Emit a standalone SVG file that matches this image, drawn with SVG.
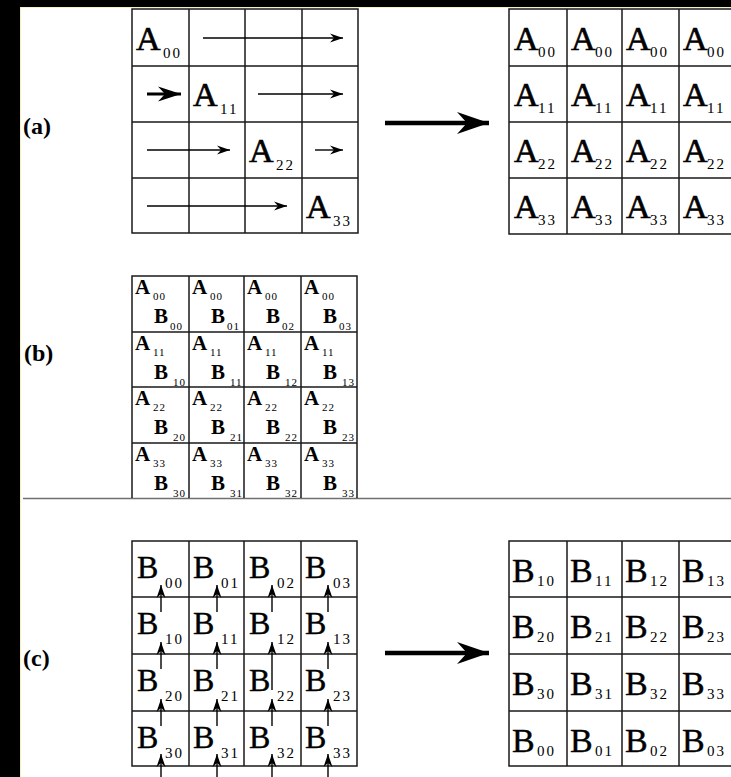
<svg xmlns="http://www.w3.org/2000/svg" width="731" height="777" viewBox="0 0 731 777">
<defs>
<style>
.grid{fill:none;stroke:#1a1a1a;stroke-width:1.5}
.lbl{font-family:"Liberation Serif",serif;font-weight:bold;font-size:24px;fill:#000}
.ta{font-family:"Liberation Serif",serif;font-size:34px;fill:#000;stroke:#000;stroke-width:0.6}
.tc{font-family:"Liberation Serif",serif;font-size:32px;fill:#000;stroke:#000;stroke-width:0.4}
.tcr{font-family:"Liberation Serif",serif;font-size:34px;fill:#000;stroke:#000;stroke-width:0.4}
.sub{font-family:"Liberation Serif",serif;font-size:15px;letter-spacing:2px;fill:#000}
.tb{font-family:"Liberation Serif",serif;font-weight:bold;font-size:21px;fill:#000}
.sb{font-family:"Liberation Serif",serif;font-size:11px;letter-spacing:1px;fill:#000}
.thin{stroke:#000;stroke-width:1.4;fill:none;marker-end:url(#ah)}
.big{stroke:#000;stroke-width:4.5;fill:none;marker-end:url(#bh)}
.mid{stroke:#000;stroke-width:3;fill:none;marker-end:url(#mh)}
</style>
<marker id="ah" markerUnits="userSpaceOnUse" viewBox="-14 -6 15 12" refX="0" refY="0" markerWidth="15" markerHeight="12" orient="auto"><path d="M0,0 L-13,-4.5 L-9,0 L-13,4.5 Z" fill="#000"/></marker>
<marker id="mh" markerUnits="userSpaceOnUse" viewBox="-24 -9 25 18" refX="0" refY="0" markerWidth="25" markerHeight="18" orient="auto"><path d="M0,0 L-23,-7.5 L-16,0 L-23,7.5 Z" fill="#000"/></marker>
<marker id="bh" markerUnits="userSpaceOnUse" viewBox="-34 -12 35 24" refX="0" refY="0" markerWidth="35" markerHeight="24" orient="auto"><path d="M0,0 L-32,-11 L-22,0 L-32,11 Z" fill="#000"/></marker>
</defs>
<rect x="0" y="0" width="731" height="777" fill="#fff"/>
<rect x="0" y="0" width="731" height="7" fill="#000"/>
<rect x="0" y="0" width="20" height="777" fill="#000"/>
<line x1="20.5" y1="7" x2="20.5" y2="777" stroke="#f4f0c0" stroke-width="1"/>
<line x1="20" y1="7.5" x2="731" y2="7.5" stroke="#f4f0c0" stroke-width="1"/>
<line x1="23" y1="498.5" x2="731" y2="498.5" stroke="#707070" stroke-width="1.5"/>

<text class="lbl" x="23" y="134">(a)</text>
<text class="lbl" x="24" y="361">(b)</text>
<text class="lbl" x="23" y="666">(c)</text>

<g id="gridA1">
<path class="grid" d="M132,9H358V233H132Z M189,9V233 M245,9V233 M302,9V233 M132,66H358 M132,122H358 M132,178H358"/>
<text class="ta" x="136" y="50">A</text><text class="sub" x="163" y="58">00</text>
<text class="ta" x="193" y="106">A</text><text class="sub" x="220" y="114">11</text>
<text class="ta" x="249" y="162">A</text><text class="sub" x="276" y="170">22</text>
<text class="ta" x="306" y="218">A</text><text class="sub" x="333" y="226">33</text>
</g>

<g id="gridA2">
<path class="grid" d="M509,9H736V234H509Z M567,9V234 M622,9V234 M679,9V234 M509,66H736 M509,122H736 M509,178H736"/>
<text class="ta" x="514" y="50">A</text><text class="sub" x="538" y="57">00</text>
<text class="ta" x="571" y="50">A</text><text class="sub" x="595" y="57">00</text>
<text class="ta" x="626" y="50">A</text><text class="sub" x="650" y="57">00</text>
<text class="ta" x="683" y="50">A</text><text class="sub" x="707" y="57">00</text>
<text class="ta" x="514" y="106">A</text><text class="sub" x="538" y="113">11</text>
<text class="ta" x="571" y="106">A</text><text class="sub" x="595" y="113">11</text>
<text class="ta" x="626" y="106">A</text><text class="sub" x="650" y="113">11</text>
<text class="ta" x="683" y="106">A</text><text class="sub" x="707" y="113">11</text>
<text class="ta" x="514" y="162">A</text><text class="sub" x="538" y="169">22</text>
<text class="ta" x="571" y="162">A</text><text class="sub" x="595" y="169">22</text>
<text class="ta" x="626" y="162">A</text><text class="sub" x="650" y="169">22</text>
<text class="ta" x="683" y="162">A</text><text class="sub" x="707" y="169">22</text>
<text class="ta" x="514" y="218">A</text><text class="sub" x="538" y="225">33</text>
<text class="ta" x="571" y="218">A</text><text class="sub" x="595" y="225">33</text>
<text class="ta" x="626" y="218">A</text><text class="sub" x="650" y="225">33</text>
<text class="ta" x="683" y="218">A</text><text class="sub" x="707" y="225">33</text>
</g>

<g id="gridB">
<path class="grid" d="M132,498V276H357V498 M189,276V498 M244,276V498 M301,276V498 M132,332H357 M132,387H357 M132,443H357"/>
<text class="tb" x="135" y="294">A</text><text class="sb" x="153" y="300">00</text>
<text class="tb" x="154" y="323">B</text><text class="sb" x="170" y="330">00</text>
<text class="tb" x="192" y="294">A</text><text class="sb" x="210" y="300">00</text>
<text class="tb" x="211" y="323">B</text><text class="sb" x="227" y="330">01</text>
<text class="tb" x="247" y="294">A</text><text class="sb" x="265" y="300">00</text>
<text class="tb" x="266" y="323">B</text><text class="sb" x="282" y="330">02</text>
<text class="tb" x="304" y="294">A</text><text class="sb" x="322" y="300">00</text>
<text class="tb" x="323" y="323">B</text><text class="sb" x="339" y="330">03</text>

<text class="tb" x="135" y="350">A</text><text class="sb" x="153" y="356">11</text>
<text class="tb" x="154" y="379">B</text><text class="sb" x="173" y="386">10</text>
<text class="tb" x="192" y="350">A</text><text class="sb" x="210" y="356">11</text>
<text class="tb" x="211" y="379">B</text><text class="sb" x="230" y="386">11</text>
<text class="tb" x="247" y="350">A</text><text class="sb" x="265" y="356">11</text>
<text class="tb" x="266" y="379">B</text><text class="sb" x="285" y="386">12</text>
<text class="tb" x="304" y="350">A</text><text class="sb" x="322" y="356">11</text>
<text class="tb" x="323" y="379">B</text><text class="sb" x="342" y="386">13</text>

<text class="tb" x="135" y="405">A</text><text class="sb" x="153" y="411">22</text>
<text class="tb" x="154" y="434">B</text><text class="sb" x="173" y="441">20</text>
<text class="tb" x="192" y="405">A</text><text class="sb" x="210" y="411">22</text>
<text class="tb" x="211" y="434">B</text><text class="sb" x="230" y="441">21</text>
<text class="tb" x="247" y="405">A</text><text class="sb" x="265" y="411">22</text>
<text class="tb" x="266" y="434">B</text><text class="sb" x="285" y="441">22</text>
<text class="tb" x="304" y="405">A</text><text class="sb" x="322" y="411">22</text>
<text class="tb" x="323" y="434">B</text><text class="sb" x="342" y="441">23</text>

<text class="tb" x="135" y="461">A</text><text class="sb" x="153" y="467">33</text>
<text class="tb" x="154" y="490">B</text><text class="sb" x="173" y="497">30</text>
<text class="tb" x="192" y="461">A</text><text class="sb" x="210" y="467">33</text>
<text class="tb" x="211" y="490">B</text><text class="sb" x="230" y="497">31</text>
<text class="tb" x="247" y="461">A</text><text class="sb" x="265" y="467">33</text>
<text class="tb" x="266" y="490">B</text><text class="sb" x="285" y="497">32</text>
<text class="tb" x="304" y="461">A</text><text class="sb" x="322" y="467">33</text>
<text class="tb" x="323" y="490">B</text><text class="sb" x="342" y="497">33</text>
</g>

<g id="gridC1">
<path class="grid" d="M132,541H357V766H132Z M189,541V766 M244,541V766 M301,541V766 M132,597H357 M132,654H357 M132,711H357"/>
<text class="tc" x="137" y="578">B</text><text class="sub" x="165" y="588">00</text>
<text class="tc" x="193" y="578">B</text><text class="sub" x="221" y="588">01</text>
<text class="tc" x="249" y="578">B</text><text class="sub" x="277" y="588">02</text>
<text class="tc" x="305" y="578">B</text><text class="sub" x="333" y="588">03</text>
<text class="tc" x="137" y="634">B</text><text class="sub" x="165" y="644">10</text>
<text class="tc" x="193" y="634">B</text><text class="sub" x="221" y="644">11</text>
<text class="tc" x="249" y="634">B</text><text class="sub" x="277" y="644">12</text>
<text class="tc" x="305" y="634">B</text><text class="sub" x="333" y="644">13</text>
<text class="tc" x="137" y="691">B</text><text class="sub" x="165" y="701">20</text>
<text class="tc" x="193" y="691">B</text><text class="sub" x="221" y="701">21</text>
<text class="tc" x="249" y="691">B</text><text class="sub" x="277" y="701">22</text>
<text class="tc" x="305" y="691">B</text><text class="sub" x="333" y="701">23</text>
<text class="tc" x="137" y="748">B</text><text class="sub" x="165" y="758">30</text>
<text class="tc" x="193" y="748">B</text><text class="sub" x="221" y="758">31</text>
<text class="tc" x="249" y="748">B</text><text class="sub" x="277" y="758">32</text>
<text class="tc" x="305" y="748">B</text><text class="sub" x="333" y="758">33</text>
</g>

<g id="gridC2">
<path class="grid" d="M509,541H736V766H509Z M567,541V766 M622,541V766 M679,541V766 M509,597H736 M509,654H736 M509,711H736"/>
<text class="tcr" x="512" y="582">B</text><text class="sub" x="537" y="586">10</text>
<text class="tcr" x="570" y="582">B</text><text class="sub" x="595" y="586">11</text>
<text class="tcr" x="625" y="582">B</text><text class="sub" x="650" y="586">12</text>
<text class="tcr" x="682" y="582">B</text><text class="sub" x="707" y="586">13</text>
<text class="tcr" x="512" y="638">B</text><text class="sub" x="537" y="642">20</text>
<text class="tcr" x="570" y="638">B</text><text class="sub" x="595" y="642">21</text>
<text class="tcr" x="625" y="638">B</text><text class="sub" x="650" y="642">22</text>
<text class="tcr" x="682" y="638">B</text><text class="sub" x="707" y="642">23</text>
<text class="tcr" x="512" y="695">B</text><text class="sub" x="537" y="699">30</text>
<text class="tcr" x="570" y="695">B</text><text class="sub" x="595" y="699">31</text>
<text class="tcr" x="625" y="695">B</text><text class="sub" x="650" y="699">32</text>
<text class="tcr" x="682" y="695">B</text><text class="sub" x="707" y="699">33</text>
<text class="tcr" x="512" y="752">B</text><text class="sub" x="537" y="756">00</text>
<text class="tcr" x="570" y="752">B</text><text class="sub" x="595" y="756">01</text>
<text class="tcr" x="625" y="752">B</text><text class="sub" x="650" y="756">02</text>
<text class="tcr" x="682" y="752">B</text><text class="sub" x="707" y="756">03</text>
</g>

<g id="connectors">
<path class="big" d="M385,123H489"/>
<path class="big" d="M385,653H489"/>
<path class="thin" d="M203,38H343"/>
<path class="mid" d="M147,94H181"/>
<path class="thin" d="M258,94H343"/>
<path class="thin" d="M147,150H230"/>
<path class="thin" d="M315,150H343"/>
<path class="thin" d="M147,206H287"/>
<path class="thin" d="M161,612V585"/>
<path class="thin" d="M217,612V585"/>
<path class="thin" d="M272,612V585"/>
<path class="thin" d="M328,612V585"/>
<path class="thin" d="M161,669V642"/>
<path class="thin" d="M217,669V642"/>
<path class="thin" d="M272,690V642"/>
<path class="thin" d="M328,669V642"/>
<path class="thin" d="M161,726V699"/>
<path class="thin" d="M217,726V699"/>
<path class="thin" d="M272,726V699"/>
<path class="thin" d="M328,726V699"/>
<path class="thin" d="M161,778V754"/>
<path class="thin" d="M217,778V754"/>
<path class="thin" d="M272,778V754"/>
<path class="thin" d="M328,778V754"/>
</g>
</svg>
